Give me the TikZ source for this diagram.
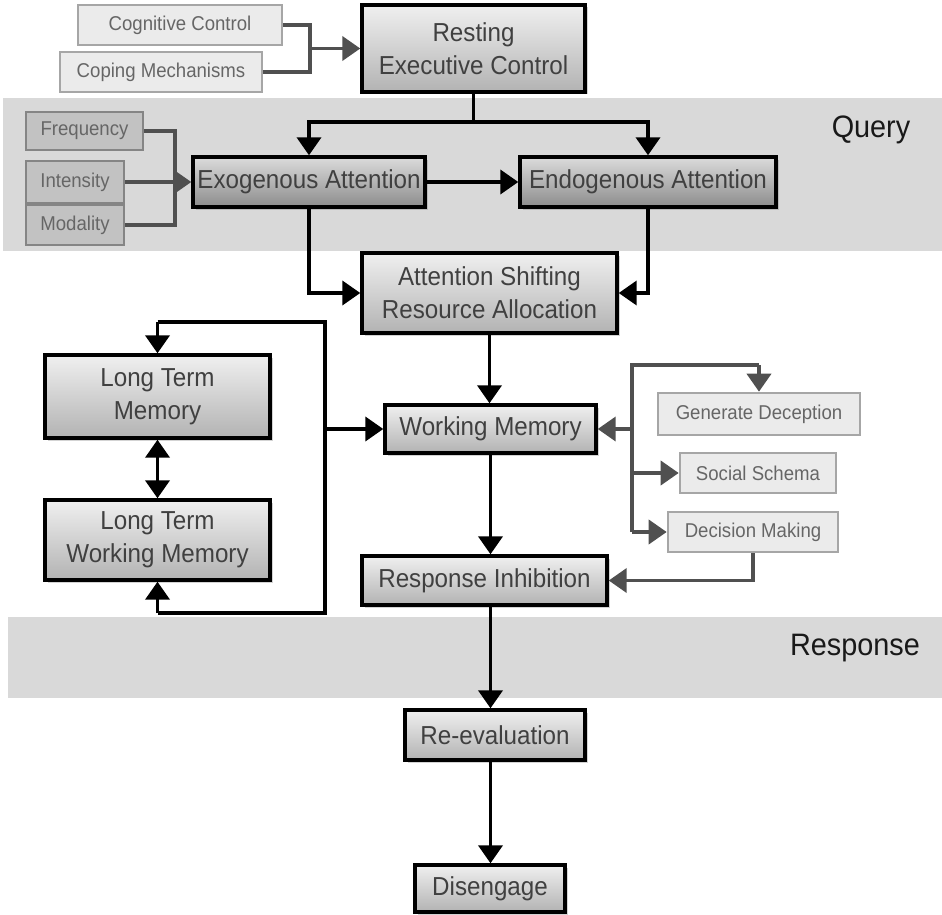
\documentclass[tikz,border=0pt]{standalone}
\usepackage{fontspec}
\setmainfont{Liberation Sans}
\newfontfamily\narrowfont[FakeStretch=0.93]{Liberation Sans}
\usetikzlibrary{arrows.meta,shadows,calc}
\definecolor{bandgray}{HTML}{D9D9D9}
\definecolor{maintext}{HTML}{404040}
\definecolor{lighttext}{HTML}{666666}
\definecolor{lightborder}{HTML}{A6A6A6}
\definecolor{midborder}{HTML}{858585}
\definecolor{gline}{HTML}{505050}
\tikzset{
  mainbox/.style={draw=black, line width=3.4pt, top color=white!94!black, bottom color=white!70!black,
    text=maintext, font=\narrowfont\fontsize{26}{33}\selectfont, align=center, inner sep=1pt,
    drop shadow={shadow xshift=2.5pt, shadow yshift=-2.5pt, opacity=0.35}},
  darkbox/.style={mainbox, top color=white!86!black, bottom color=white!55!black},
  lightbox/.style={draw=lightborder, line width=2.6pt, fill=white!92!black, text=lighttext,
    font=\narrowfont\fontsize{20}{24}\selectfont, align=center, inner sep=1pt},
  midbox/.style={draw=midborder, line width=2.6pt, fill=white!76!black, text=lighttext,
    font=\narrowfont\fontsize{20}{24}\selectfont, align=center, inner sep=1pt},
  tip/.style={},
  bl/.style={draw=black, line width=3.8pt},
  barr/.style={bl, -{Triangle[length=18pt,width=24pt]}},
  bdarr/.style={bl, {Triangle[length=18pt,width=24pt]}-{Triangle[length=18pt,width=24pt]}},
  gl/.style={draw=gline, line width=3.8pt},
  garr/.style={gl, -{Triangle[length=18pt,width=24pt]}},
  bandlabel/.style={font=\narrowfont\fontsize{31}{34}\selectfont, text=black!90}
}
\begin{document}
\begin{tikzpicture}[x=1pt,y=-1pt]
\useasboundingbox (0,0) rectangle (942,915);
% bands
\fill[bandgray] (3,98) rectangle (942,251);
\fill[bandgray] (8,617) rectangle (942,698);
\node[bandlabel] (query) at (871,130) {Query};
\node[bandlabel] (resp) at (855,648) {Response};

% main boxes
\node[mainbox, minimum width=223pt, minimum height=87pt] (rest) at (473.5,48.5) {Resting\\Executive Control};
\node[darkbox, minimum width=232pt, minimum height=50pt] (exo) at (309,182) {Exogenous Attention};
\node[darkbox, minimum width=256pt, minimum height=50pt] (endo) at (648,182) {Endogenous Attention};
\node[mainbox, minimum width=255pt, minimum height=80pt] (att) at (489.5,293) {Attention Shifting\\Resource Allocation};
\node[mainbox, minimum width=211pt, minimum height=48pt] (wm) at (490.5,429) {Working Memory};
\node[mainbox, minimum width=225pt, minimum height=83pt] (ltm) at (157.5,396.5) {Long Term\\Memory};
\node[mainbox, minimum width=225pt, minimum height=80pt] (ltwm) at (157.5,540) {Long Term\\Working Memory};
\node[mainbox, minimum width=245pt, minimum height=49pt] (ri) at (484.5,580.5) {Response Inhibition};
\node[mainbox, minimum width=180pt, minimum height=50pt] (reev) at (495,735) {Re-evaluation};
\node[mainbox, minimum width=150pt, minimum height=47pt] (dis) at (490,888.5) {Disengage};

% light boxes
\node[lightbox, minimum width=204pt, minimum height=40pt] (cog) at (180,25) {Cognitive Control};
\node[lightbox, minimum width=202pt, minimum height=40pt] (cope) at (161,72) {Coping Mechanisms};
\node[lightbox, minimum width=202pt, minimum height=42pt] (gen) at (759,414) {Generate Deception};
\node[lightbox, minimum width=156pt, minimum height=40pt] (soc) at (758,473) {Social Schema};
\node[lightbox, minimum width=170pt, minimum height=40pt] (dec) at (753,532) {Decision Making};

% mid boxes
\node[midbox, minimum width=117pt, minimum height=38pt] (freq) at (84.5,131) {Frequency};
\node[midbox, minimum width=98pt, minimum height=42pt] (inten) at (75,182) {Intensity};
\node[midbox, minimum width=98pt, minimum height=40pt] (mod) at (75,225) {Modality};

% top-left inputs
\coordinate (j1) at (310,48.5);
\draw[gl] (cog.east) -| (j1);
\draw[gl] (cope.east) -| (j1);
\draw[garr] (j1) -- (rest.west);

% resting to attention
\coordinate (j2) at ($(rest.south)+(0,28)$);
\draw[bl] (rest.south) -- (j2);
\draw[barr] (j2) -| (exo.north);
\draw[barr] (j2) -| (endo.north);

% stimulus properties
\coordinate (j3) at (175,182);
\draw[gl] (freq.east) -| (j3);
\draw[gl] (mod.east) -| (j3);
\draw[garr] (inten.east) -- (exo.west);

\draw[barr] (exo.east) -- (endo.west);
\draw[barr] (exo.south) |- (att.west);
\draw[barr] (endo.south) |- (att.east);
\draw[barr] (att.south) -- (att.south |- wm.north);

% memory bus
\coordinate (bt) at (325,322);
\coordinate (bb) at (325,613);
\draw[bl] (ltm.north |- bt) -- (bt) -- (bb) -- (ltwm.south |- bb);
\draw[barr] (ltm.north |- bt) -- (ltm.north);
\draw[barr] (ltwm.south |- bb) -- (ltwm.south);
\draw[barr] (bt |- wm.west) -- (wm.west);
\draw[bdarr] (ltm.south) -- (ltwm.north);

% right bus
\coordinate (rt) at (632,365);
\coordinate (rb) at (632,532);
\draw[gl] (gen.north |- rt) -- (rt) -- (rb);
\draw[garr] (gen.north |- rt) -- (gen.north);
\draw[garr] (rt |- wm.east) -- (wm.east);
\draw[garr] (rt |- soc.west) -- (soc.west);
\draw[garr] (rb) -- (dec.west);
\draw[garr] (dec.south) |- (ri.east);

% main vertical flow
\draw[barr] (wm.south) -- (wm.south |- ri.north);
\draw[barr] (ri.south -| wm.south) -- (reev.north -| wm.south);
\draw[barr] (reev.south -| wm.south) -- (dis.north -| wm.south);
\end{tikzpicture}
\end{document}
